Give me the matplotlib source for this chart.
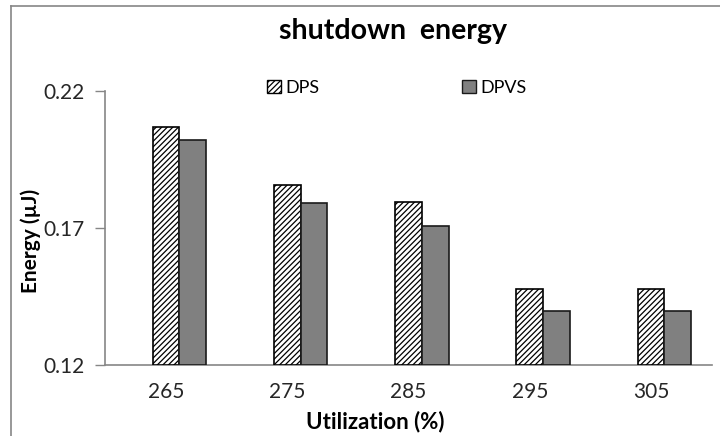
import matplotlib
matplotlib.use("Agg")
import matplotlib.pyplot as plt
import numpy as np
from matplotlib.lines import Line2D
from matplotlib.patches import Patch

categories = ["265", "275", "285", "295", "305"]
dps = [0.2069, 0.1855, 0.1795, 0.1478, 0.1478]
dpvs = [0.2020, 0.1790, 0.1708, 0.1396, 0.1396]
yticks = [0.12, 0.17, 0.22]

plt.rcParams['font.family'] = ['Lato', 'DejaVu Sans']
plt.rcParams['hatch.linewidth'] = 0.9

fig = plt.figure(figsize=(7.2, 4.36), dpi=100)
ax = fig.add_axes([105.3/720, 1-365/436, (711.7-105.3)/720, (365-90.7)/436])

x = np.arange(len(categories))
w = 0.22
ax.bar(x, [v - 0.12 for v in dps], width=w, bottom=0.12, color='white',
       edgecolor='black', hatch='//////', linewidth=1.2, label='DPS', zorder=3)
ax.bar(x + w, [v - 0.12 for v in dpvs], width=w, bottom=0.12, color='#808080',
       edgecolor='#1a1a1a', linewidth=1.2, label='DPVS', zorder=3)

ax.set_xlim(-0.5, len(categories) - 0.5)
ax.set_ylim(0.12, 0.22)
ax.set_yticks(yticks)
ax.set_yticklabels([f"{t:.2f}" for t in yticks], fontsize=15, color='#262626')
ax.set_xticks(x)
ax.set_xticklabels(categories, fontsize=15, color='#262626')
ax.tick_params(axis='x', length=0, pad=12)
ax.tick_params(axis='y', length=7, color='#868686', width=1, pad=8)

for s in ['top', 'right']:
    ax.spines[s].set_visible(False)
for s in ['left', 'bottom']:
    ax.spines[s].set_color('#868686')
    ax.spines[s].set_linewidth(1.2)

fig.text(393/720, 1-31/436, "shutdown  energy", ha='center', va='center',
         fontsize=20.5, fontweight='bold')
fig.text(375/720, 1-421.7/436, "Utilization (%)", ha='center', va='center',
         fontsize=16, fontweight='bold')
fig.text(31/720, 1-241/436, "Energy (\u00b5J)", ha='center', va='center',
         fontsize=15, fontweight='bold', rotation=90)

# legend
h1 = Patch(facecolor='white', edgecolor='black', hatch='//////', linewidth=1.0)
h2 = Patch(facecolor='#808080', edgecolor='#1a1a1a', linewidth=1.0)
fig.legend([h1], ['DPS'], loc='center', bbox_to_anchor=(293/720, 1-88/436),
           frameon=False, fontsize=13, handlelength=0.8, handleheight=0.7,
           handletextpad=0.2, borderpad=0)
fig.legend([h2], ['DPVS'], loc='center', bbox_to_anchor=(494/720, 1-88/436),
           frameon=False, fontsize=13, handlelength=0.8, handleheight=0.7,
           handletextpad=0.2, borderpad=0)

# chart border
fig.add_artist(Line2D([11/720, 11/720], [0, 1-6/436], color='#868686', lw=1.2))
fig.add_artist(Line2D([11/720, 1], [1-6/436, 1-6/436], color='#868686', lw=1.2))

fig.savefig("out.png", dpi=100)
